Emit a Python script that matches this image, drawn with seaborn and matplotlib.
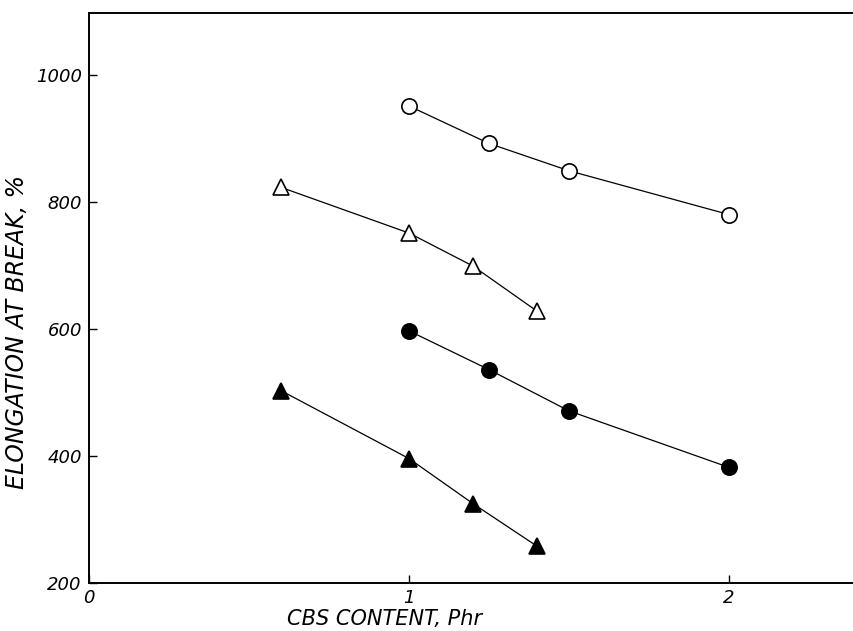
import pandas as pd
import seaborn as sns
import matplotlib.pyplot as plt

# values
open_circle_x = [1.0, 1.25, 1.5, 2.0]
open_circle_y = [951, 892, 849, 780]

open_tri_x = [0.6, 1.0, 1.2, 1.4]
open_tri_y = [823, 751, 699, 628]

filled_circle_x = [1.0, 1.25, 1.5, 2.0]
filled_circle_y = [597, 536, 471, 382]

filled_tri_x = [0.6, 1.0, 1.2, 1.4]
filled_tri_y = [503, 396, 325, 258]

x_ticks = [0, 1, 2]
y_ticks = [200, 400, 600, 800, 1000]

sns.set_theme(style='ticks')
plt.rcParams['font.family'] = ['DejaVu Sans']

fig = plt.figure(figsize=(8.54, 6.31), dpi=100)
ax = fig.add_axes([0.104, 0.076, 0.896, 0.903])

series = [
    (open_circle_x, open_circle_y, 'o', 'white'),
    (open_tri_x, open_tri_y, '^', 'white'),
    (filled_circle_x, filled_circle_y, 'o', 'black'),
    (filled_tri_x, filled_tri_y, '^', 'black'),
]
for xs, ys, m, fc in series:
    df = pd.DataFrame({'x': xs, 'y': ys})
    sns.lineplot(data=df, x='x', y='y', ax=ax, color='black', lw=0.9,
                 marker=m, markersize=11, markerfacecolor=fc,
                 markeredgecolor='black', markeredgewidth=1.2, sort=False)

ax.set_xlim(0, 2.39)
ax.set_ylim(200, 1097)
ax.set_xticks(x_ticks)
ax.set_yticks(y_ticks)
ax.set_xticklabels([str(v) for v in x_ticks], fontstyle='italic', fontsize=13)
ax.set_yticklabels([str(v) for v in y_ticks], fontstyle='italic', fontsize=13)
ax.tick_params(direction='in', length=6, width=1, colors='black')
ax.tick_params(axis='y', pad=5)
ax.tick_params(axis='x', pad=4)

ax.spines['right'].set_visible(False)
for s in ['left', 'top', 'bottom']:
    ax.spines[s].set_linewidth(1.4)
    ax.spines[s].set_color('black')

ax.set_xlabel('CBS CONTENT, Phr', fontstyle='italic', fontsize=15, color='black')
ax.xaxis.set_label_coords(0.387, -0.045)
ax.set_ylabel('ELONGATION AT BREAK, %', fontstyle='italic', fontsize=17, color='black')
ax.yaxis.set_label_coords(-0.078, 0.44)

fig.savefig('out.png', dpi=100)
